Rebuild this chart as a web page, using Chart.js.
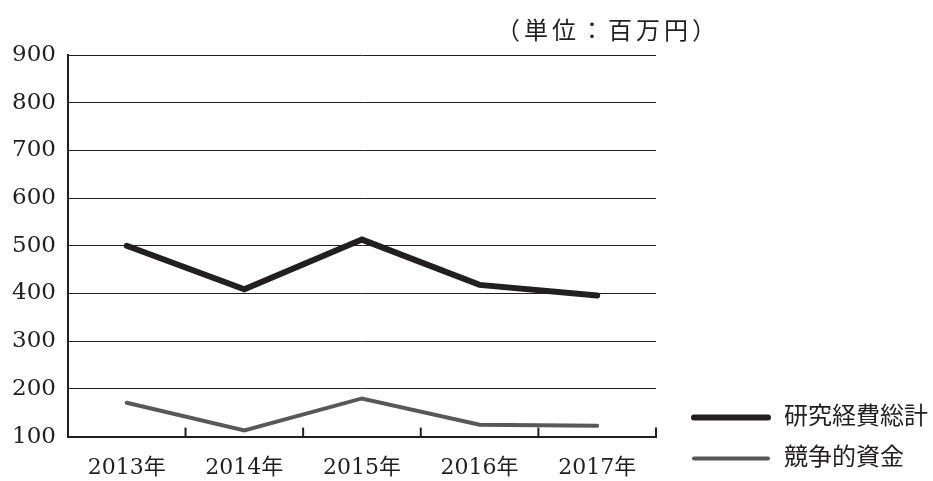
<!DOCTYPE html>
<html>
<head>
<meta charset="utf-8">
<script src="https://cdn.jsdelivr.net/npm/chart.js@4.4.0/dist/chart.umd.min.js"></script>
<style>
html,body{margin:0;padding:0;background:#fff;}
#wrap{width:933px;height:481px;position:relative;}
</style>
</head>
<body>
<div id="wrap"><canvas id="c" width="933" height="481"></canvas></div>
<script>
const categories = ['2013年','2014年','2015年','2016年','2017年'];
const totalResearch = [500, 409, 513, 418, 396];
const competitiveFunds = [171, 113, 180, 125, 123];
const seriesNames = ['研究経費総計','競争的資金'];
const unitLabel = '（単位：百万円）';
const yMin = 100, yMax = 900, yStep = 100;

const FONT = '"DejaVu Serif", "Noto Sans CJK JP", serif';
const INK = '#231f20';

const extras = {
  id: 'extras',
  afterDraw(chart) {
    const ctx = chart.ctx;
    const area = chart.chartArea;
    const xs = chart.scales.x;
    const half = (xs.getPixelForValue(1) - xs.getPixelForValue(0)) / 2;
    ctx.save();
    ctx.strokeStyle = INK;
    ctx.lineWidth = 2;
    for (let i = 0; i < categories.length; i++) {
      const x = xs.getPixelForValue(i) + half;
      ctx.beginPath();
      ctx.moveTo(x, area.bottom);
      ctx.lineTo(x, area.bottom - 9);
      ctx.stroke();
    }
    ctx.fillStyle = INK;
    ctx.font = '24px ' + FONT;
    ctx.textAlign = 'right';
    ctx.textBaseline = 'middle';
    ctx.letterSpacing = '4px';
    ctx.fillText(unitLabel, area.right + 64, 33);
    ctx.letterSpacing = '0px';
    ctx.textAlign = 'left';
    chart.data.datasets.forEach((ds, i) => {
      const y = area.bottom - 19 + i * 41;
      ctx.strokeStyle = ds.borderColor;
      ctx.lineWidth = ds.borderWidth;
      ctx.lineCap = 'round';
      ctx.beginPath();
      ctx.moveTo(area.right + 38, y);
      ctx.lineTo(area.right + 112, y);
      ctx.stroke();
      ctx.fillStyle = INK;
      ctx.font = '24px ' + FONT;
      ctx.fillText(ds.label, area.right + 128, y);
    });
    ctx.restore();
  }
};

new Chart(document.getElementById('c'), {
  type: 'line',
  data: {
    labels: categories,
    datasets: [
      { label: seriesNames[0], data: totalResearch, borderColor: '#231f20', borderWidth: 6,
        pointRadius: 0, tension: 0, borderJoinStyle: 'miter', borderCapStyle: 'round' },
      { label: seriesNames[1], data: competitiveFunds, borderColor: '#595757', borderWidth: 4,
        pointRadius: 0, tension: 0, borderCapStyle: 'round' }
    ]
  },
  options: {
    responsive: false,
    animation: false,
    layout: { padding: { left: 0, right: 277, top: 55, bottom: -18 } },
    plugins: { legend: { display: false }, tooltip: { enabled: false }, title: { display: false } },
    scales: {
      x: {
        offset: true,
        grid: { display: false, drawTicks: false },
        border: { display: true, color: INK, width: 2 },
        ticks: { color: INK, font: { family: FONT, size: 22 }, padding: 18, maxRotation: 0 }
      },
      y: {
        min: yMin, max: yMax,
        ticks: { stepSize: yStep, color: INK, font: { family: FONT, size: 23 }, padding: 12 },
        grid: { color: INK, lineWidth: 1, drawTicks: false },
        border: { display: true, color: INK, width: 2 }
      }
    }
  },
  plugins: [extras]
});
</script>
</body>
</html>
